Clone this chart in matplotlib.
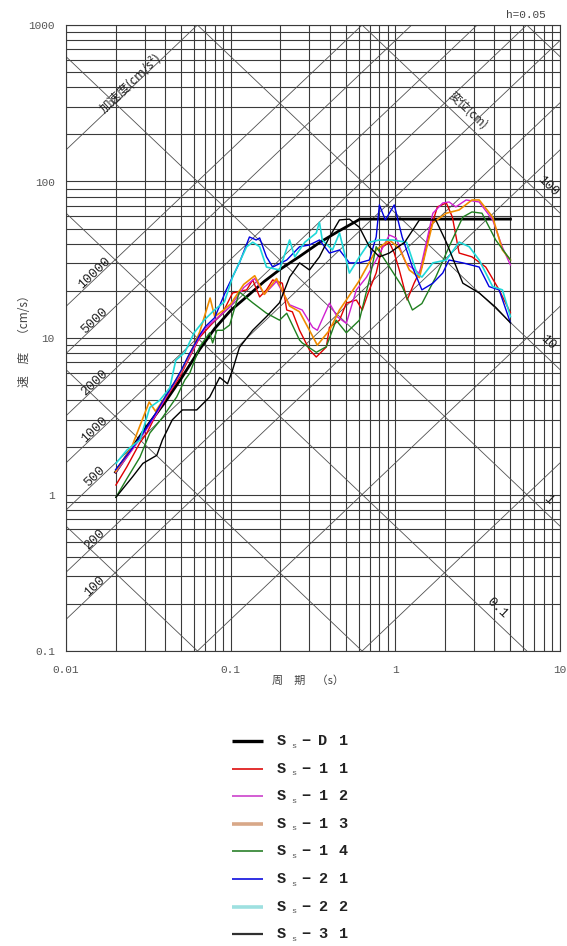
import numpy as np
import matplotlib
matplotlib.use("Agg")
import matplotlib.pyplot as plt
from matplotlib.transforms import offset_copy
from matplotlib.ticker import NullLocator

# ---------------- data ----------------
T_D1 = [0.02, 0.03, 0.04, 0.05, 0.065, 0.08, 0.1, 0.13, 0.16, 0.2, 0.26, 0.35, 0.45, 0.61, 5.0]
V_D1 = [1.39, 2.6, 3.9, 5.5, 8.5, 11.5, 15, 19, 23, 27.5, 33, 41, 48, 57.5, 57.5]

T_11 = [0.0201, 0.0234, 0.0281, 0.031, 0.0356, 0.0409, 0.0491, 0.0564, 0.0649, 0.0777, 0.0894, 0.1027,
        0.125, 0.1362, 0.15, 0.165, 0.18, 0.206, 0.219, 0.237, 0.262, 0.301, 0.331, 0.381, 0.398, 0.458,
        0.504, 0.58, 0.63, 0.695, 0.765, 0.831, 0.92, 0.985, 1.057, 1.18, 1.3, 1.45, 1.61, 1.8, 2.04,
        2.22, 2.44, 2.92, 3.54, 4.27, 5.0]
V_11 = [1.15, 1.5, 2.14, 2.47, 3.31, 4.2, 5.64, 7.56, 10.1, 12.5, 14.5, 19.4,
        20.3, 23.5, 18.3, 20.3, 23.5, 22.4, 15.1, 14.7, 11.2, 8.4, 7.56, 8.76, 11.7, 13.0,
        16.7, 17.5, 15.1, 20.3, 26.0, 38.0, 40.9, 34.9, 27.2, 17.5, 22.4, 28.4, 46.9, 68.8, 72.9,
        59.3, 34.9, 33.0, 28.4, 20.3, 14.5]

T_12 = [0.02, 0.025, 0.03, 0.035, 0.04, 0.045, 0.05, 0.055, 0.06, 0.065, 0.07, 0.08, 0.09, 0.1,
        0.12, 0.14, 0.16, 0.19, 0.228, 0.272, 0.315, 0.336, 0.398, 0.443, 0.504, 0.58, 0.667, 0.765,
        0.92, 1.01, 1.16, 1.4, 1.69, 1.94, 2.12, 2.33, 2.69, 3.23, 3.9, 4.47, 5.0]
V_12 = [1.38, 1.9, 2.5, 3.2, 4.1, 5.0, 6.0, 7.3, 8.7, 10.3, 11.5, 13.0, 14.5, 16.0,
        21.0, 24.0, 19.0, 23.0, 16.3, 15.1, 11.7, 11.2, 16.7, 13.7, 12.4, 20.3, 24.4, 31.5,
        45.5, 43.6, 30.0, 25.9, 62.7, 72.9, 74.0, 68.8, 76.2, 74.0, 56.8, 38.0, 29.3]

T_13 = [0.02, 0.025, 0.032, 0.035, 0.04, 0.045, 0.05, 0.055, 0.06, 0.065, 0.075, 0.08, 0.09, 0.1,
        0.12, 0.14, 0.16, 0.19, 0.228, 0.262, 0.301, 0.336, 0.398, 0.458, 0.504, 0.6, 0.765, 0.92,
        1.057, 1.216, 1.4, 1.69, 2.04, 2.44, 2.92, 3.23, 3.9, 4.47, 5.0]
V_13 = [1.4, 2.0, 3.9, 3.4, 4.2, 5.1, 6.1, 7.5, 9.0, 11.0, 18.0, 13.7, 15.0, 16.5,
        22.0, 25.0, 19.0, 24.0, 16.0, 14.7, 11.2, 9.0, 11.2, 15.1, 17.5, 23.0, 36.5, 42.3,
        37.4, 27.2, 24.3, 54.6, 62.7, 65.8, 76.2, 76.2, 59.3, 36.5, 31.5]

T_14 = [0.0201, 0.0234, 0.0281, 0.0323, 0.0385, 0.047, 0.0527, 0.0564, 0.0649, 0.0746, 0.0777, 0.0825,
        0.0894, 0.0986, 0.113, 0.136, 0.165, 0.198, 0.219, 0.262, 0.272, 0.331, 0.381, 0.437, 0.504,
        0.605, 0.695, 0.765, 0.92, 1.1, 1.27, 1.45, 1.76, 2.12, 2.57, 2.92, 3.36, 4.07, 5.0]
V_14 = [0.96, 1.26, 1.73, 2.47, 3.1, 4.2, 5.4, 5.95, 8.8, 10.8, 9.3, 11.2,
        11.2, 12.1, 19.7, 16.8, 14.4, 13.0, 14.4, 9.7, 9.3, 8.1, 8.8, 13.0, 10.8,
        13.0, 23.5, 38.3, 28.5, 21.3, 15.1, 16.6, 24.5, 38.3, 59.3, 63.9, 62.7, 42.3, 31.5]

T_21 = [0.02, 0.025, 0.03, 0.035, 0.04, 0.045, 0.05, 0.055, 0.06, 0.065, 0.07, 0.08, 0.094,
        0.113, 0.13, 0.143, 0.15, 0.165, 0.18, 0.219, 0.262, 0.301, 0.346, 0.398, 0.458, 0.526,
        0.605, 0.695, 0.765, 0.8, 0.87, 0.985, 1.1, 1.27, 1.45, 1.69, 1.94, 2.12, 2.57, 3.23,
        3.71, 4.27, 5.0]
V_21 = [1.44, 1.95, 2.55, 3.3, 4.2, 5.1, 6.2, 7.6, 9.0, 10.5, 11.8, 13.5, 20.3,
        30.2, 44.2, 42.3, 43.6, 33.0, 28.4, 31.5, 38.3, 39.3, 42.3, 34.9, 36.5, 30.2,
        30.2, 31.5, 44.2, 70.8, 56.8, 70.8, 44.2, 28.4, 20.3, 22.4, 26.0, 31.5, 30.2, 28.4,
        21.3, 20.3, 12.5]

T_22 = [0.0201, 0.0234, 0.0281, 0.0323, 0.0371, 0.0427, 0.0464, 0.0527, 0.06, 0.069, 0.0797,
        0.0916, 0.1027, 0.125, 0.1362, 0.15, 0.165, 0.198, 0.228, 0.245, 0.282, 0.331, 0.346,
        0.36, 0.415, 0.458, 0.526, 0.605, 0.695, 0.8, 0.96, 1.17, 1.35, 1.45, 1.69, 2.04, 2.44,
        2.81, 3.23, 3.9, 4.47, 5.0]
V_22 = [1.58, 1.92, 2.23, 3.6, 4.0, 4.8, 7.2, 8.1, 10.8, 13.0, 15.1,
        17.0, 24.5, 38.3, 40.9, 38.3, 28.4, 27.2, 42.3, 33.0, 40.9, 46.9, 55.0,
        42.3, 36.5, 46.9, 26.0, 33.0, 40.9, 42.3, 42.3, 40.9, 26.0, 24.5, 30.2, 31.5, 41.0,
        38.3, 31.5, 21.3, 20.3, 13.7]

T_31 = [0.0201, 0.0254, 0.0293, 0.0356, 0.0385, 0.0442, 0.0509, 0.0622, 0.0746, 0.0858, 0.0957,
        0.1027, 0.113, 0.136, 0.165, 0.198, 0.228, 0.262, 0.301, 0.346, 0.398, 0.458, 0.526, 0.605,
        0.695, 0.8, 0.92, 1.14, 1.4, 1.76, 2.04, 2.57, 3.23, 4.07, 5.0]
V_31 = [0.96, 1.3, 1.58, 1.78, 2.23, 3.0, 3.47, 3.47, 4.2, 5.6, 5.1,
        6.25, 8.7, 11.2, 13.7, 16.8, 24.5, 30.2, 27.2, 33.0, 44.2, 56.8, 57.5, 51.0,
        38.3, 33.0, 34.9, 40.9, 56.8, 56.8, 40.9, 22.4, 19.4, 15.7, 12.5]

series = [
    ("D1", T_D1, V_D1, "#000000", 2.0),
    ("11", T_11, V_11, "#e00000", 1.0),
    ("12", T_12, V_12, "#d020d0", 1.0),
    ("13", T_13, V_13, "#f08c00", 1.2),
    ("14", T_14, V_14, "#1f7f1f", 1.0),
    ("21", T_21, V_21, "#0000e0", 1.0),
    ("22", T_22, V_22, "#20d8d8", 1.2),
    ("31", T_31, V_31, "#000000", 1.0),
]
legend_colors = ["#000000", "#e02020", "#d050d0", "#d8a888", "#3a8a3a", "#2020e0", "#9ee0e0", "#303030"]
legend_widths = [2.4, 1.3, 1.3, 2.6, 1.3, 1.3, 2.6, 1.6]

accel_lines = [1, 10, 100, 200, 500, 1000, 2000, 5000, 10000, 100000]
accel_labels = [100, 200, 500, 1000, 2000, 5000, 10000]
disp_lines = [0.001, 0.01, 0.1, 1, 10, 100, 1000]
disp_labels = [0.1, 1, 10, 100]

# ---------------- figure ----------------
W, H = 567, 946
fig = plt.figure(figsize=(W / 100, H / 100), dpi=100)
ax = fig.add_axes([66 / W, 1 - 651 / H, 494 / W, 626 / H])
ax.set_xscale("log")
ax.set_yscale("log")
ax.set_xlim(0.01, 10)
ax.set_ylim(0.1, 1000)

gridc = "#3a3a3a"
for dec in [0.01, 0.1, 1]:
    for k in range(1, 10):
        ax.axvline(k * dec, color=gridc, lw=0.8, zorder=1)
ax.axvline(10, color=gridc, lw=0.8, zorder=1)
for dec in [0.1, 1, 10, 100]:
    for k in range(1, 10):
        ax.axhline(k * dec, color=gridc, lw=0.8, zorder=1)
ax.axhline(1000, color=gridc, lw=0.8, zorder=1)

Tg = np.logspace(-2, 1, 200)
diagc = "#505050"
for A in accel_lines:
    ax.plot(Tg, A * Tg / (2 * np.pi), color=diagc, lw=0.6, zorder=1)
for D in disp_lines:
    ax.plot(Tg, 2 * np.pi * D / Tg, color=diagc, lw=0.6, zorder=1)

for sp in ax.spines.values():
    sp.set_color(gridc)
    sp.set_linewidth(0.8)

num_font = dict(family="Liberation Mono", fontsize=9.5, color="#222222")
ang = np.degrees(np.arctan((626 / 4) / (494 / 3)))
off_up7 = offset_copy(ax.transData, fig=fig, x=0, y=6, units="dots")
off_up16 = offset_copy(ax.transData, fig=fig, x=0, y=15, units="dots")
Tlab = 0.0149
for A in accel_labels:
    ax.text(Tlab, A * Tlab / (2 * np.pi), str(A), rotation=ang, ha="center", va="center",
            rotation_mode="anchor", transform=off_up7, **num_font)
Tacc = 0.0244
ax.text(Tacc, 100000 * Tacc / (2 * np.pi), "加速度(cm/s²)", rotation=ang, ha="center", va="center",
        rotation_mode="anchor", transform=off_up7, family=["Noto Sans CJK JP", "DejaVu Sans"],
        fontsize=9, color="#222222")
for D in disp_labels:
    Tt = 4.15 if D == 0.1 else 8.4
    ax.text(Tt, 2 * np.pi * D / Tt, "0.1" if D == 0.1 else str(D), rotation=-ang, ha="center",
            va="center", rotation_mode="anchor", transform=off_up16, **num_font)
Tdsp = 2.77
ax.text(Tdsp, 2 * np.pi * 100 / Tdsp, "変位(cm)", rotation=-ang, ha="center", va="center",
        rotation_mode="anchor", transform=off_up16, family=["Noto Sans CJK JP", "DejaVu Sans"],
        fontsize=8.5, color="#222222")

for name, T, V, c, lw in series:
    ax.plot(T, V, color=c, lw=lw, zorder=3, solid_joinstyle="round")

ax.set_xticks([0.01, 0.1, 1, 10])
ax.set_xticklabels(["0.01", "0.1", "1", "10"])
ax.set_yticks([0.1, 1, 10, 100, 1000])
ax.set_yticklabels(["0.1", "1", "10", "100", "1000"])
ax.xaxis.set_minor_locator(NullLocator())
ax.yaxis.set_minor_locator(NullLocator())
ax.tick_params(length=0, labelsize=8, labelcolor="#555555")
ax.tick_params(axis="x", pad=10)
ax.tick_params(axis="y", pad=8)
for lab in ax.get_xticklabels() + ax.get_yticklabels():
    lab.set_family("Liberation Mono")

cjk = ["Noto Sans CJK JP", "DejaVu Sans"]
fig.text(308 / W, 1 - 681 / H, "周　期　（s）", ha="center", va="center", family=cjk, fontsize=8, color="#444444")
fig.text(25 / W, 1 - 338 / H, "速　度　（cm/s）", ha="center", va="center", rotation=90, family=cjk,
         fontsize=8.5, color="#444444")
fig.text(526 / W, 1 - 15 / H, "h=0.05", ha="center", va="center", family="Liberation Mono",
         fontsize=8, color="#444444")

# ---------------- legend ----------------
lax = fig.add_axes([0, 0, 1, 1])
lax.set_xlim(0, W)
lax.set_ylim(H, 0)
lax.axis("off")
for i, (name, *_rest) in enumerate(series):
    y = 741 + i * 27.6
    lax.plot([232, 263], [y, y], color=legend_colors[i], lw=legend_widths[i], solid_capstyle="butt")
    f = dict(family="Liberation Mono", fontweight="bold", fontsize=11, color="#222222", va="center")
    lax.text(281, y, "S", ha="center", **f)
    lax.text(294, y + 5, "s", ha="center", family="Liberation Mono", fontsize=6, color="#555555", va="center")
    lax.text(306, y, "−", ha="center", **f)
    lax.text(323, y, name[0], ha="center", **f)
    lax.text(343, y, name[1], ha="center", **f)

fig.savefig("out.png", dpi=100)
